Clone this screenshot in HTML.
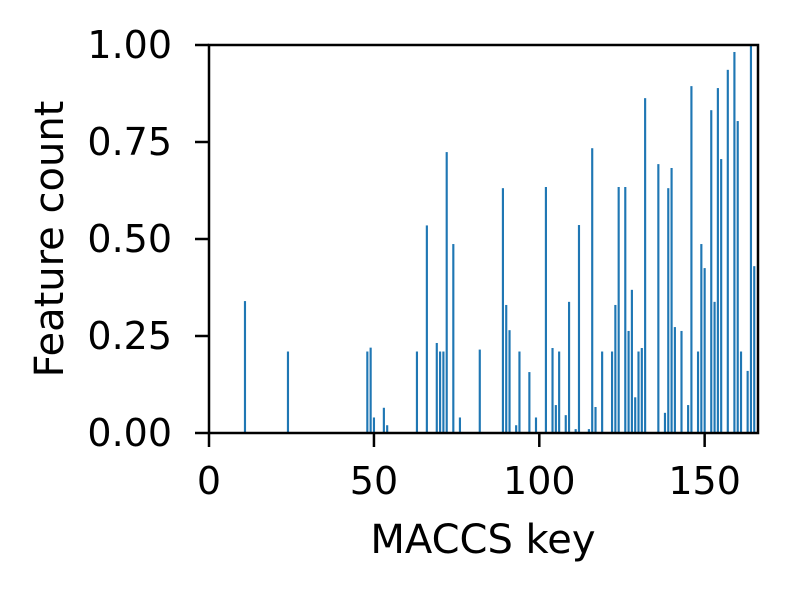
<!DOCTYPE html>
<html><head><meta charset="utf-8"><style>
body{margin:0;background:#fff;}
svg text{font-family:"DejaVu Sans","Liberation Sans",sans-serif;fill:#000;}
</style></head><body>
<svg id="chart" width="787" height="589" viewBox="0 0 787 589" xmlns="http://www.w3.org/2000/svg" style="position:absolute;left:0;top:0">
<rect x="0" y="0" width="787" height="589" fill="#fff"/>
<g id="bars"></g>
<g id="axes"></g>
<text x="483" y="553" text-anchor="middle" font-size="40">MACCS key</text>
<text x="0" y="0" transform="translate(63,239) rotate(-90)" text-anchor="middle" font-size="40">Feature count</text>
</svg>
<script>
const keys = [11,24,48,49,50,53,54,63,66,69,70,71,72,74,76,82,89,90,91,93,94,97,99,102,104,105,106,108,109,111,112,115,116,117,119,122,123,124,126,127,128,129,130,131,132,136,138,139,140,141,143,145,146,148,149,150,152,153,154,155,157,159,160,161,163,164,165];
const counts = [0.34,0.21,0.21,0.22,0.04,0.065,0.02,0.21,0.535,0.232,0.21,0.21,0.724,0.487,0.04,0.215,0.631,0.33,0.265,0.02,0.21,0.157,0.04,0.634,0.219,0.072,0.21,0.046,0.338,0.01,0.536,0.01,0.734,0.067,0.21,0.21,0.33,0.634,0.634,0.263,0.369,0.092,0.21,0.219,0.863,0.693,0.052,0.631,0.683,0.273,0.263,0.072,0.894,0.21,0.487,0.425,0.832,0.338,0.889,0.706,0.936,0.982,0.804,0.21,0.16,1.0,0.43];
const xTicks = [0,50,100,150];
const yTicks = [0,0.25,0.5,0.75,1.0];
const yTickLabels = ["0.00","0.25","0.50","0.75","1.00"];

const L=209,R=758,T=45,B=433;
function xs(v){return 208.6+v*3.307;}
function ys(v){return B-(v-0)/(1-0)*(B-T);}
const NS="http://www.w3.org/2000/svg";
const bars=document.getElementById('bars');
const bw=0.65*3.307;
keys.forEach((k,i)=>{
  const r=document.createElementNS(NS,'rect');
  
  
  const y=ys(counts[i]);
  r.setAttribute('x',xs(k)-bw/2);r.setAttribute('y',y);
  r.setAttribute('width',bw);r.setAttribute('height',B-y);
  r.setAttribute('fill','#1f77b4');
  bars.appendChild(r);
});
const ax=document.getElementById('axes');
const frame=document.createElementNS(NS,'rect');


frame.setAttribute('x',L);frame.setAttribute('y',T);frame.setAttribute('width',R-L);frame.setAttribute('height',B-T);
frame.setAttribute('fill','none');frame.setAttribute('stroke','#000');frame.setAttribute('stroke-width','2.5');
ax.appendChild(frame);
xTicks.forEach(t=>{
  const x=(t===0)?209:xs(t);
  const l=document.createElementNS(NS,'line');
  
  
  l.setAttribute('x1',x);l.setAttribute('x2',x);l.setAttribute('y1',B);l.setAttribute('y2',B+14);
  l.setAttribute('stroke','#000');l.setAttribute('stroke-width','2.5');ax.appendChild(l);
  const tx=document.createElementNS(NS,'text');
  
  
  tx.setAttribute('x',x);tx.setAttribute('y',494);tx.setAttribute('text-anchor','middle');tx.setAttribute('font-size','38');
  tx.textContent=t;ax.appendChild(tx);
});
yTicks.forEach((t,i)=>{
  const y=ys(t);
  const l=document.createElementNS(NS,'line');
  
  
  l.setAttribute('x1',L-14);l.setAttribute('x2',L);l.setAttribute('y1',y);l.setAttribute('y2',y);
  l.setAttribute('stroke','#000');l.setAttribute('stroke-width','2.5');ax.appendChild(l);
  const tx=document.createElementNS(NS,'text');
  
  
  tx.setAttribute('x',L-37);tx.setAttribute('y',y+13);tx.setAttribute('text-anchor','end');tx.setAttribute('font-size','38');
  tx.textContent=yTickLabels[i];ax.appendChild(tx);
});
</script>
</body></html>
